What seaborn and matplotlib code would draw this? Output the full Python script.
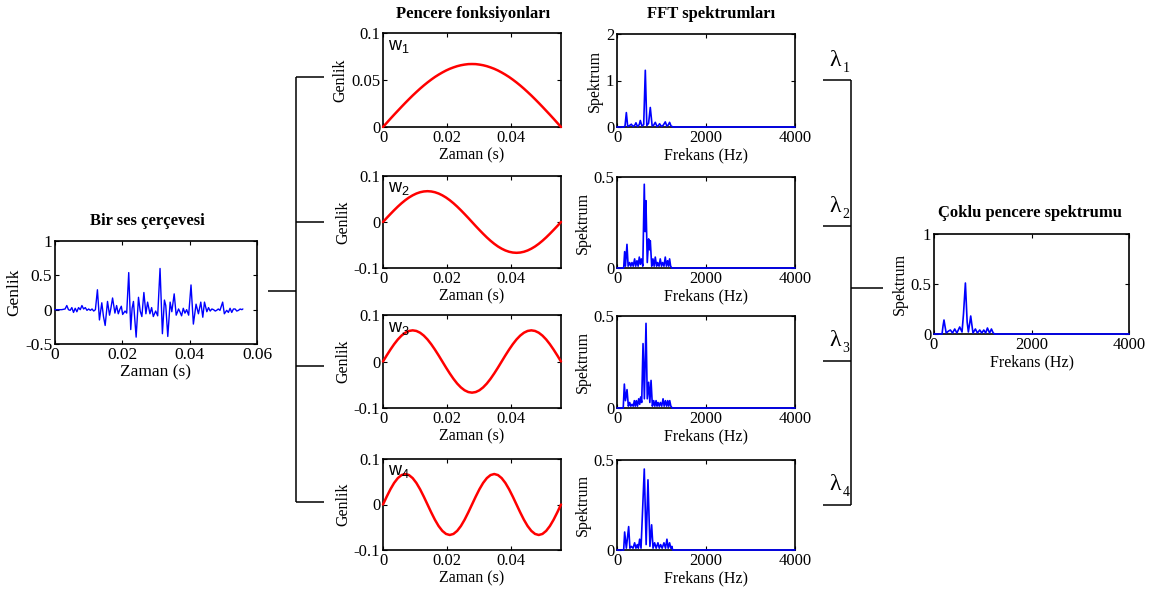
import numpy as np
import pandas as pd
import matplotlib
matplotlib.use("Agg")
import matplotlib.pyplot as plt
import seaborn as sns

# ---------------------------------------------------------------- data
# speech frame (time in s, amplitude)
frame_t = [0.0000, 0.0010, 0.0020, 0.0030, 0.0035, 0.0040, 0.0045, 0.0050, 0.0055, 0.0060,
           0.0065, 0.0070, 0.0075, 0.0080, 0.0085, 0.0090, 0.0095, 0.0100, 0.0105, 0.0110,
           0.0115, 0.0120, 0.0126, 0.0132, 0.0139, 0.0144, 0.0149, 0.0156, 0.0162, 0.0166,
           0.0171, 0.0178, 0.0183, 0.0188, 0.0193, 0.0197, 0.0201, 0.0208, 0.0213, 0.0219,
           0.0225, 0.0229, 0.0233, 0.0241, 0.0248, 0.0253, 0.0258, 0.0264, 0.0270, 0.0275,
           0.0282, 0.0287, 0.0292, 0.0299, 0.0305, 0.0312, 0.0319, 0.0325, 0.0329, 0.0335,
           0.0342, 0.0347, 0.0354, 0.0360, 0.0367, 0.0371, 0.0376, 0.0381, 0.0386, 0.0391,
           0.0397, 0.0404, 0.0411, 0.0419, 0.0426, 0.0433, 0.0439, 0.0444, 0.0451, 0.0456,
           0.0461, 0.0466, 0.0471, 0.0476, 0.0480, 0.0485, 0.0490, 0.0498, 0.0503, 0.0510,
           0.0515, 0.0520, 0.0525, 0.0530, 0.0535, 0.0540, 0.0545, 0.0550, 0.0555, 0.0558]
frame_amp = [0.00, 0.00, 0.00, 0.01, 0.06, 0.00, -0.01, 0.03, -0.04, 0.02,
             -0.03, 0.03, 0.00, 0.06, 0.01, 0.03, -0.01, 0.01, -0.01, 0.01,
             -0.02, 0.00, 0.29, -0.15, 0.10, -0.10, -0.23, 0.12, -0.08, 0.02,
             0.17, -0.05, 0.06, -0.06, 0.01, 0.05, -0.07, -0.02, -0.05, 0.54,
             -0.29, 0.02, 0.12, -0.40, 0.18, -0.02, -0.10, 0.25, -0.06, 0.11,
             -0.06, 0.03, -0.10, -0.02, -0.09, 0.60, -0.35, 0.14, 0.06, -0.39,
             0.11, -0.03, 0.23, -0.08, 0.01, -0.03, -0.09, 0.02, -0.05, 0.00,
             -0.08, 0.36, -0.21, 0.08, -0.06, 0.11, -0.11, 0.11, -0.03, 0.03,
             -0.02, 0.01, 0.00, -0.02, -0.01, 0.01, -0.01, 0.11, -0.06, -0.01,
             -0.04, 0.02, -0.04, 0.01, 0.01, -0.02, -0.01, 0.01, 0.00, 0.01]

# sine tapers sampled on 49 points over the frame length
taper_t = np.linspace(0, 0.0556, 49)
w1 = [0, .0044, .0088, .0131, .0173, .0215, .0256, .0296, .0335, .0372, .0408, .0442, .0474,
      .0504, .0532, .0557, .0580, .0601, .0619, .0634, .0647, .0657, .0664, .0669, .0670,
      .0669, .0664, .0657, .0647, .0634, .0619, .0601, .0580, .0557, .0532, .0504, .0474,
      .0442, .0408, .0372, .0335, .0296, .0256, .0215, .0173, .0131, .0088, .0044, 0]
w2 = [0, .0088, .0173, .0256, .0335, .0408, .0474, .0532, .0580, .0619, .0647, .0664, .0670,
      .0664, .0647, .0619, .0580, .0532, .0474, .0408, .0335, .0256, .0173, .0088, 0,
      -.0088, -.0173, -.0256, -.0335, -.0408, -.0474, -.0532, -.0580, -.0619, -.0647, -.0664, -.0670,
      -.0664, -.0647, -.0619, -.0580, -.0532, -.0474, -.0408, -.0335, -.0256, -.0173, -.0088, 0]
w3 = [0, .0131, .0256, .0372, .0474, .0557, .0619, .0657, .0670,
      .0657, .0619, .0557, .0474, .0372, .0256, .0131, 0,
      -.0131, -.0256, -.0372, -.0474, -.0557, -.0619, -.0657, -.0670,
      -.0657, -.0619, -.0557, -.0474, -.0372, -.0256, -.0131, 0,
      .0131, .0256, .0372, .0474, .0557, .0619, .0657, .0670,
      .0657, .0619, .0557, .0474, .0372, .0256, .0131, 0]
w4 = [0, .0173, .0335, .0474, .0580, .0647, .0670,
      .0647, .0580, .0474, .0335, .0173, 0,
      -.0173, -.0335, -.0474, -.0580, -.0647, -.0670,
      -.0647, -.0580, -.0474, -.0335, -.0173, 0,
      .0173, .0335, .0474, .0580, .0647, .0670,
      .0647, .0580, .0474, .0335, .0173, 0,
      -.0173, -.0335, -.0474, -.0580, -.0647, -.0670,
      -.0647, -.0580, -.0474, -.0335, -.0173, 0]

# FFT spectra of the tapered frames (frequency in Hz, magnitude)
spec1_f = [0, 150, 180, 210, 240, 280, 322, 360, 400, 426, 460, 500, 524, 560, 600, 636, 670,
           710, 748, 790, 825, 860, 900, 930, 957, 1000, 1040, 1085, 1120, 1150, 1182, 1215,
           1240, 1260, 4000]
spec1_v = [0, 0, 0.02, 0.31, 0.01, 0.03, 0.06, 0.01, 0.04, 0.09, 0.01, 0.05, 0.14, 0.02, 0.05,
           1.22, 0.03, 0.08, 0.42, 0.02, 0.04, 0.10, 0.01, 0.03, 0.07, 0.01, 0.04, 0.11, 0.02,
           0.04, 0.10, 0.02, 0.01, 0, 0]
spec2_f = [0, 150, 172, 190, 224, 250, 284, 310, 337, 365, 396, 420, 449, 475, 501, 525, 546,
           580, 613, 632, 650, 680, 711, 730, 748, 780, 808, 835, 860, 890, 913, 945, 972,
           1000, 1025, 1055, 1085, 1110, 1137, 1160, 1182, 1205, 1230, 4000]
spec2_v = [0, 0, 0.09, 0.01, 0.13, 0.01, 0.03, 0.01, 0.03, 0.01, 0.05, 0.01, 0.04, 0.01, 0.06,
           0.02, 0.05, 0.01, 0.46, 0.20, 0.37, 0.03, 0.16, 0.10, 0.15, 0.01, 0.05, 0.01, 0.06,
           0.01, 0.03, 0.01, 0.05, 0.01, 0.03, 0.01, 0.06, 0.01, 0.04, 0.01, 0.05, 0.01, 0, 0]
spec3_f = [0, 140, 165, 190, 225, 255, 285, 310, 338, 365, 390, 412, 435, 460, 488, 510, 532,
           555, 585, 615, 652, 680, 712, 738, 765, 795, 825, 850, 878, 900, 922, 950, 975,
           1005, 1035, 1060, 1088, 1115, 1140, 1162, 1185, 1210, 1240, 4000]
spec3_v = [0, 0, 0.13, 0.04, 0.10, 0.01, 0.03, 0.01, 0.02, 0.01, 0.04, 0.01, 0.04, 0.01, 0.05,
           0.02, 0.06, 0.03, 0.35, 0.05, 0.46, 0.05, 0.14, 0.03, 0.15, 0.01, 0.04, 0.01, 0.04,
           0.01, 0.03, 0.01, 0.03, 0.01, 0.05, 0.01, 0.04, 0.01, 0.04, 0.01, 0.04, 0.01, 0, 0]
spec4_f = [0, 150, 172, 210, 262, 290, 322, 360, 396, 425, 456, 480, 509, 540, 613, 655, 696,
           740, 778, 810, 845, 880, 920, 950, 980, 1015, 1055, 1090, 1122, 1150, 1182, 1210,
           1234, 1250, 4000]
spec4_v = [0, 0, 0.10, 0.01, 0.13, 0.01, 0.02, 0.01, 0.04, 0.01, 0.03, 0.01, 0.06, 0.01, 0.45,
           0.03, 0.39, 0.02, 0.14, 0.01, 0.04, 0.01, 0.04, 0.01, 0.03, 0.01, 0.04, 0.01, 0.06,
           0.01, 0.04, 0.01, 0.02, 0, 0]

# weighted multitaper spectrum
mt_f = [0, 165, 185, 205, 225, 250, 300, 336, 380, 425, 470, 527, 575, 605, 644, 680, 705,
        730, 753, 780, 800, 849, 890, 938, 980, 1021, 1060, 1096, 1140, 1178, 1215, 1245, 4000]
mt_v = [0, 0, 0.08, 0.14, 0.08, 0.01, 0.03, 0.04, 0.01, 0.05, 0.01, 0.07, 0.02, 0.20, 0.51,
        0.12, 0.02, 0.10, 0.18, 0.08, 0.01, 0.05, 0.01, 0.04, 0.01, 0.04, 0.01, 0.06, 0.01,
        0.05, 0.01, 0, 0]

window_names = ["1", "2", "3", "4"]
lambda_names = ["1", "2", "3", "4"]

# ---------------------------------------------------------------- style
sns.set_style("ticks")
plt.rcParams.update({
    "font.family": ["Liberation Serif", "DejaVu Serif"],
    "font.size": 12,
    "text.color": "black",
    "axes.labelcolor": "black",
    "axes.unicode_minus": False,
    "axes.linewidth": 1.2,
    "axes.edgecolor": "black",
    "xtick.direction": "in",
    "ytick.direction": "in",
    "xtick.top": True,
    "ytick.right": True,
    "xtick.major.size": 3,
    "ytick.major.size": 3,
    "xtick.major.pad": 2,
    "ytick.major.pad": 2,
    "xtick.color": "black",
    "ytick.color": "black",
    "xtick.labelcolor": "black",
    "ytick.labelcolor": "black",
    "mathtext.fontset": "custom",
    "mathtext.sf": "Liberation Sans",
    "mathtext.rm": "Liberation Sans",
})

W, H = 1159, 593
fig = plt.figure(figsize=(W / 100, H / 100), dpi=100)
fig.patch.set_facecolor("white")


def add_ax(l, t, r, b):
    return fig.add_axes([l / W, 1 - b / H, (r - l) / W, (b - t) / H])


def style(ax, xlim, xticks, xlabels, ylim, yticks, ylabels, xlabel, ylabel,
          tick_size=12, label_size=11.5):
    ax.set_xlim(*xlim)
    ax.set_ylim(*ylim)
    ax.set_xticks(xticks, xlabels, fontsize=tick_size, color="black")
    ax.set_yticks(yticks, ylabels, fontsize=tick_size, color="black")
    ax.set_xlabel(xlabel, fontsize=label_size, labelpad=1.5, color="black")
    ax.set_ylabel(ylabel, fontsize=label_size, labelpad=2, color="black")
    ax.tick_params(which="both", top=True, right=True, direction="in", length=3,
                   color="black")
    for sp in ax.spines.values():
        sp.set_visible(True)
        sp.set_color("black")
        sp.set_linewidth(1.2)


def draw(ax, x, y, color, lw):
    sns.lineplot(x=x, y=y, ax=ax, color=color, linewidth=lw, estimator=None,
                 sort=False, legend=False, clip_on=False, zorder=3)


# overlay for connectors and free text (pixel coordinates)
ov = fig.add_axes([0, 0, 1, 1], zorder=-1)
ov.set_xlim(0, W)
ov.set_ylim(H, 0)
ov.axis("off")

# speech frame
ax0 = add_ax(55, 241, 257, 344)
draw(ax0, frame_t, frame_amp, "#0000ff", 1.0)
style(ax0, (0, 0.06), [0, 0.02, 0.04, 0.06], ["0", "0.02", "0.04", "0.06"],
      (-0.5, 1), [-0.5, 0, 0.5, 1], ["-0.5", "0", "0.5", "1"], "Zaman (s)", "Genlik",
      tick_size=12.5, label_size=12.5)

rows = [(33, 127), (176, 268), (315, 408), (459, 550)]
tapers = [w1, w2, w3, w4]
spectra = [(spec1_f, spec1_v), (spec2_f, spec2_v), (spec3_f, spec3_v), (spec4_f, spec4_v)]

for i, (top, bot) in enumerate(rows):
    axw = add_ax(383, top, 561, bot)
    draw(axw, taper_t, tapers[i], "#ff0000", 1.8)
    if i == 0:
        style(axw, (0, 0.0556), [0, 0.02, 0.04], ["0", "0.02", "0.04"],
              (0, 0.1), [0, 0.05, 0.1], ["0", "0.05", "0.1"], "Zaman (s)", "Genlik")
    else:
        style(axw, (0, 0.0556), [0, 0.02, 0.04], ["0", "0.02", "0.04"],
              (-0.1, 0.1), [-0.1, 0, 0.1], ["-0.1", "0", "0.1"], "Zaman (s)", "Genlik")
    axw.text(0.03, 0.86, r"$\mathsf{w}_{\mathsf{%s}}$" % window_names[i], transform=axw.transAxes,
             fontsize=13, ha="left", va="center", color="black")

    axs = add_ax(617, top + 1, 795, bot)
    f, v = spectra[i]
    draw(axs, f, v, "#0000ff", 1.2)
    if i == 0:
        style(axs, (0, 4000), [0, 2000, 4000], ["0", "2000", "4000"],
              (0, 2), [0, 1, 2], ["0", "1", "2"], "Frekans (Hz)", "Spektrum")
    else:
        style(axs, (0, 4000), [0, 2000, 4000], ["0", "2000", "4000"],
              (0, 0.5), [0, 0.5], ["0", "0.5"], "Frekans (Hz)", "Spektrum")

# multitaper result
axm = add_ax(934, 234, 1129, 334)
draw(axm, mt_f, mt_v, "#0000ff", 1.2)
style(axm, (0, 4000), [0, 2000, 4000], ["0", "2000", "4000"],
      (0, 1), [0, 0.5, 1], ["0", "0.5", "1"], "Frekans (Hz)", "Spektrum")

# titles
tk = dict(ha="center", va="center", fontsize=12, fontweight="bold", color="black")
ov.text(147, 221, "Bir ses çerçevesi", **tk)
ov.text(473, 14, "Pencere fonksiyonları", **tk)
ov.text(711, 14, "FFT spektrumları", **tk)
ov.text(1030, 213, "Çoklu pencere spektrumu", **tk)

# connectors: frame -> tapers
lk = dict(color="black", linewidth=1.1, solid_capstyle="butt")
branch_y = [77, 222, 366, 502]
ov.plot([296, 296], [branch_y[0], branch_y[-1]], **lk)
for y in branch_y:
    ov.plot([296, 324], [y, y], **lk)
ov.plot([268, 296], [291, 291], **lk)

# connectors: weighted spectra -> multitaper
lam_y = [80, 226, 361, 505]
ov.plot([851, 851], [lam_y[0], lam_y[-1]], **lk)
for y, name in zip(lam_y, lambda_names):
    ov.plot([823, 851], [y, y], **lk)
    ov.text(835, y - 20, "λ", ha="center", va="center", fontsize=17, color="black")
    ov.text(846, y - 12, name, ha="center", va="center", fontsize=10, color="black")
ov.plot([851, 883], [288, 288], **lk)

fig.savefig("out.png", dpi=100, facecolor="white")
